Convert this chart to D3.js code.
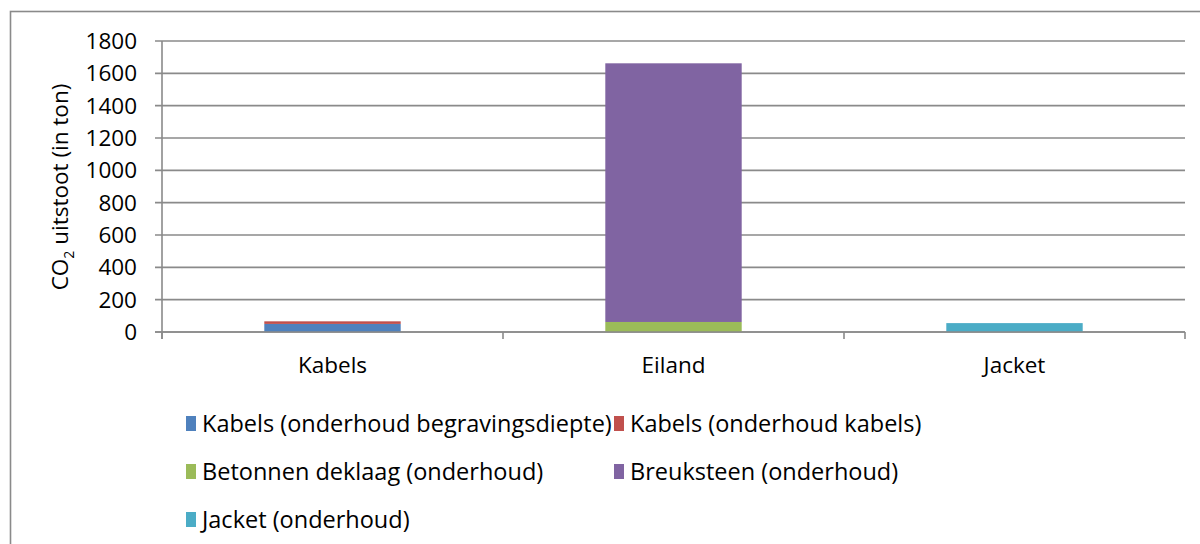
<!DOCTYPE html>
<meta charset="utf-8">
<head>
<title>CO2 uitstoot onderhoud</title>
<style>
body { margin: 0; background: #fff; }
text { font-family: "Open Sans", sans-serif; fill: #000; font-size: 22.5px; }
.legend text { font-size: 23.5px; }
.grid line { stroke: #8a8a8a; stroke-width: 1.6; }
</style>
</head>
<body>
<script src="https://d3js.org/d3.v7.min.js"></script>
<script>

// Data
var categories = ["Kabels", "Eiland", "Jacket"];
var series = ["Kabels (onderhoud begravingsdiepte)", "Kabels (onderhoud kabels)",
              "Betonnen deklaag (onderhoud)", "Breuksteen (onderhoud)", "Jacket (onderhoud)"];
var kabelsBegraving = [50, 0, 0];
var kabelsKabels = [16, 0, 0];
var betonDeklaag = [0, 62, 0];
var breuksteen = [0, 1600, 0];
var jacketOnderhoud = [0, 0, 55];
var colors = ["#4f81bd", "#c0504d", "#9bbb59", "#8064a2", "#4bacc6"];
var yTicks = [0, 200, 400, 600, 800, 1000, 1200, 1400, 1600, 1800];

var width = 1200, height = 544;
var plot = {left: 162, right: 1185, top: 41, bottom: 332};

var svg = d3.select("body").append("svg")
    .attr("width", width)
    .attr("height", height);

// chart border (runs off the right and bottom edge)
svg.append("rect")
    .attr("x", 10.5).attr("y", 11.5)
    .attr("width", 1300).attr("height", 700)
    .attr("fill", "none")
    .attr("stroke", "#8a8a8a")
    .attr("stroke-width", 1.6);

var x = d3.scaleBand().domain(categories).range([plot.left, plot.right]);
var y = d3.scaleLinear().domain([0, 1800]).range([plot.bottom, plot.top]);

// gridlines + tick labels
var grid = svg.append("g").attr("class", "grid");
grid.selectAll("line").data(yTicks).enter().append("line")
    .attr("x1", plot.left - 7).attr("x2", plot.right)
    .attr("y1", function(d) { return y(d); })
    .attr("y2", function(d) { return y(d); });

svg.append("g").selectAll("text").data(yTicks).enter().append("text")
    .attr("x", 137)
    .attr("y", function(d) { return y(d); })
    .attr("dy", "0.36em")
    .attr("text-anchor", "end")
    .text(function(d) { return d; });

// stacked bars
var rows = categories.map(function(c, i) {
    return {cat: c, vals: [kabelsBegraving[i], kabelsKabels[i], betonDeklaag[i], breuksteen[i], jacketOnderhoud[i]]};
});
var bw = x.bandwidth() * 0.4;
rows.forEach(function(r) {
    var base = 0;
    r.vals.forEach(function(v, k) {
        if (v > 0) {
            svg.append("rect")
                .attr("x", x(r.cat) + (x.bandwidth() - bw) / 2)
                .attr("width", bw)
                .attr("y", y(base + v))
                .attr("height", y(base) - y(base + v))
                .attr("fill", colors[k]);
        }
        base += v;
    });
});

// axis lines and category ticks
var axisG = svg.append("g").attr("class", "grid");
axisG.append("line")
    .attr("x1", plot.left).attr("x2", plot.left)
    .attr("y1", plot.top).attr("y2", plot.bottom + 7);
axisG.append("line")
    .attr("x1", plot.left - 7).attr("x2", plot.right)
    .attr("y1", plot.bottom).attr("y2", plot.bottom);
var catEdges = categories.map(function(c) { return x(c); }).concat([plot.right]);
axisG.selectAll(".ct").data(catEdges).enter().append("line")
    .attr("x1", function(d) { return d; }).attr("x2", function(d) { return d; })
    .attr("y1", plot.bottom).attr("y2", plot.bottom + 7);

// category labels
svg.append("g").selectAll("text").data(categories).enter().append("text")
    .attr("x", function(d) { return x(d) + x.bandwidth() / 2; })
    .attr("y", 373)
    .attr("text-anchor", "middle")
    .text(function(d) { return d; });

// y title
var yt = svg.append("text")
    .attr("transform", "translate(68,187) rotate(-90)")
    .attr("text-anchor", "middle");
yt.append("tspan").text("CO");
yt.append("tspan").attr("dy", 6).style("font-size", "14px").text("2");
yt.append("tspan").attr("dy", -6).text(" uitstoot (in ton)");

// legend
var legendPos = [[186, 423.5], [614, 423.5], [186, 471.5], [614, 471.5], [186, 519.5]];
var lg = svg.append("g").attr("class", "legend").selectAll("g").data(series).enter().append("g")
    .attr("transform", function(d, i) { return "translate(" + legendPos[i][0] + "," + legendPos[i][1] + ")"; });
lg.append("rect")
    .attr("x", 0).attr("y", -7.5)
    .attr("width", 10).attr("height", 15)
    .attr("fill", function(d, i) { return colors[i]; });
lg.append("text")
    .attr("x", 16).attr("dy", "0.36em")
    .text(function(d) { return d; });

</script>
</body>
